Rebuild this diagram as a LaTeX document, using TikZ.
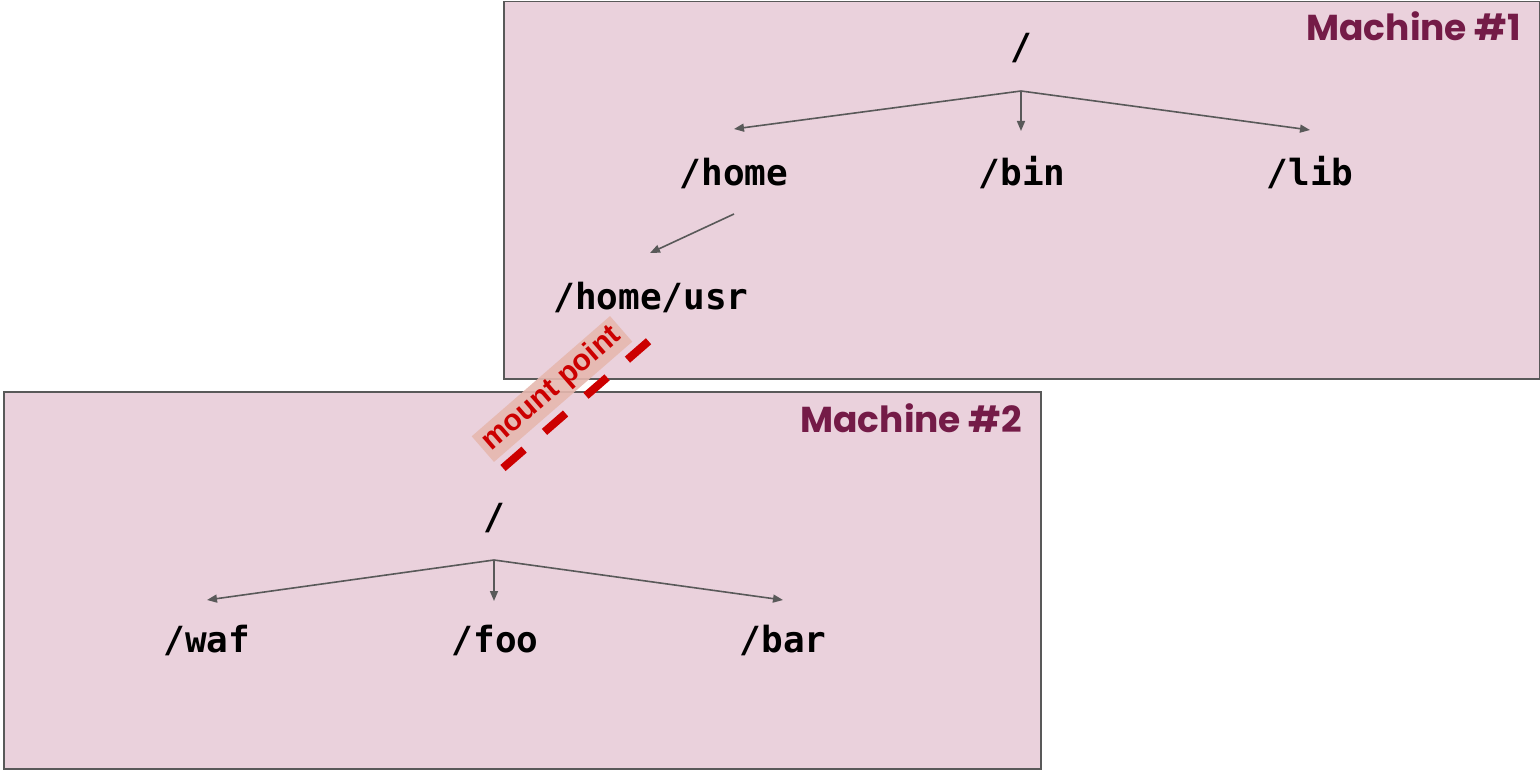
\documentclass[tikz,border=0pt]{standalone}
\usepackage{fontspec}
\setmonofont{DejaVu Sans Mono}
\newfontfamily\machfont{Poppins}
\newfontfamily\mountfont{Liberation Sans}
\usetikzlibrary{arrows.meta}
\definecolor{boxfill}{HTML}{EAD1DC}
\definecolor{boxline}{HTML}{595959}
\definecolor{machcol}{HTML}{741B47}
\definecolor{mountred}{HTML}{CC0000}
\definecolor{mountbg}{HTML}{E6B8AF}
\tikzset{
  machine/.style={draw=boxline, line width=1.5pt, fill=boxfill},
  machlabel/.style={font=\machfont\bfseries\fontsize{36}{40}\selectfont, text=machcol, anchor=base east, inner sep=0pt},
  dir/.style={font=\ttfamily\bfseries\fontsize{36}{40}\selectfont, inner sep=0pt},
  link/.style={draw=boxline, line width=1.6pt, -{Triangle[length=10pt,width=8pt]}},
  mountlabel/.style={font=\mountfont\bfseries\fontsize{30}{34}\selectfont, text=mountred, fill=mountbg, fill opacity=0.9, text opacity=1, rotate=41, inner xsep=5pt, inner ysep=3pt},
  mountline/.style={draw=mountred, line width=8pt, dash pattern=on 28pt off 27pt}
}
\begin{document}
\begin{tikzpicture}[x=1pt,y=-1pt]
\useasboundingbox (0,0) rectangle (1540,770);
% boxes
\node[machine, minimum width=1036pt, minimum height=377pt, anchor=north west, inner sep=0pt] (m1) at (503,1) {};
\node[machine, minimum width=1037pt, minimum height=377pt, anchor=north west, inner sep=0pt] (m2) at (3,391) {};
\node[machlabel] (m1l) at (1521,41) {Machine \#1};
\node[machlabel] (m2l) at (1022,432) {Machine \#2};
% tree 1
\node[dir] (root1) at (1021,48) {/};
\node[dir] (home) at (734,173) {/home};
\node[dir] (bin) at (1022,173) {/bin};
\node[dir] (lib) at (1310,173) {/lib};
\node[dir] (usr) at (651,297) {/home/usr};
\coordinate (r1b) at (1021,91);
\coordinate (homeT) at (734,129);
\coordinate (binT) at (1021,131);
\coordinate (libT) at (1310,130);
\coordinate (homeB) at (734,214);
\coordinate (usrT) at (650,253);
\draw[link] (r1b) -- (homeT);
\draw[link] (r1b) -- (binT);
\draw[link] (r1b) -- (libT);
\draw[link] (homeB) -- (usrT);
% tree 2
\node[dir] (root2) at (494,518) {/};
\node[dir] (waf) at (207,640) {/waf};
\node[dir] (foo) at (495,640) {/foo};
\node[dir] (bar) at (783,640) {/bar};
\coordinate (r2b) at (494,560);
\coordinate (wafT) at (207,600);
\coordinate (fooT) at (494,601);
\coordinate (barT) at (783,600);
\draw[link] (r2b) -- (wafT);
\draw[link] (r2b) -- (fooT);
\draw[link] (r2b) -- (barT);
% mount point
\coordinate (mpA) at (503,468);
\coordinate (mpB) at (650,340);
\draw[mountline] (mpA) -- (mpB);
\node[mountlabel] (mp) at (552,389) {mount point};
\end{tikzpicture}
\end{document}
